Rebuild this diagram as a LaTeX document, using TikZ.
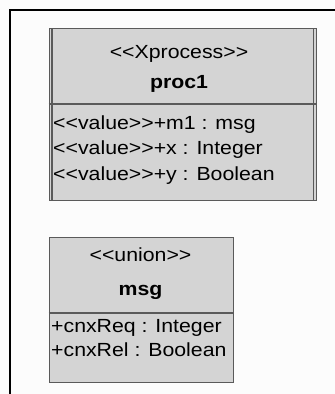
\documentclass[tikz,border=0pt]{standalone}
\usepackage{fontspec}
\setmainfont{Liberation Sans}[FakeStretch=1.12]
\begin{document}
\begin{tikzpicture}[x=1pt,y=-1pt,
  classbox/.style={draw=boxline, fill=boxfill, line width=1.3pt, inner sep=0pt, anchor=north west},
  sepline/.style={draw=boxline, line width=1.3pt},
  frameline/.style={draw=black, line width=2pt},
  stereo/.style={anchor=base, inner sep=0pt, font=\fontsize{19}{23}\selectfont},
  cname/.style={anchor=base, inner sep=0pt, font=\fontsize{19}{23}\selectfont\bfseries},
  attr/.style={anchor=base west, inner sep=0pt, font=\fontsize{19}{23}\selectfont}]
\definecolor{boxfill}{RGB}{212,212,212}
\definecolor{boxline}{RGB}{90,90,90}
\definecolor{bg}{RGB}{252,252,252}
\fill[bg] (0,0) rectangle (335,394);
\useasboundingbox (0,0) rectangle (335,394);
% frame
\coordinate (fb) at (9.5,394);
\coordinate (fc) at (9.5,9.5);
\coordinate (fr) at (335,9.5);
\draw[frameline] (fb) -- (fc) -- (fr);
% proc1
\node[classbox, minimum width=267pt, minimum height=172pt] (proc) at (48.5,28) {};
\draw[sepline] ([xshift=3.5pt]proc.north west) -- ([xshift=3.5pt]proc.south west);
\draw[sepline] ([xshift=-3.5pt]proc.north east) -- ([xshift=-3.5pt]proc.south east);
\coordinate (ps1) at (48.5,104);
\coordinate (ps2) at (315.5,104);
\draw[sepline] (ps1) -- (ps2);
\node[stereo] (pst) at (179,58) {<{}<Xprocess>{}>};
\node[cname] (pnm) at (179,88) {proc1};
\node[attr] (pa1) at (53,129) {<{}<value>{}>+m1 : msg};
\node[attr] (pa2) at (53,154.5) {<{}<value>{}>+x : Integer};
\node[attr] (pa3) at (53,180) {<{}<value>{}>+y : Boolean};
% msg
\node[classbox, minimum width=184pt, minimum height=145pt] (msg) at (48.5,237) {};
\coordinate (ms1) at (48.5,313);
\coordinate (ms2) at (232.5,313);
\draw[sepline] (ms1) -- (ms2);
\node[stereo] (mst) at (140.5,261) {<{}<union>{}>};
\node[cname] (mnm) at (140.5,295) {msg};
\node[attr] (ma1) at (51,332) {+cnxReq : Integer};
\node[attr] (ma2) at (51,356) {+cnxRel : Boolean};
\end{tikzpicture}
\end{document}
